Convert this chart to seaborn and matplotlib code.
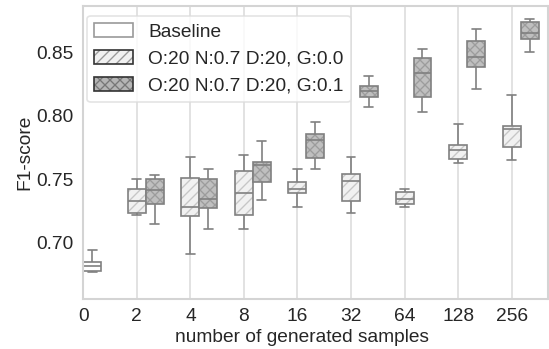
import numpy as np
import pandas as pd
import matplotlib
matplotlib.use("Agg")
import matplotlib.pyplot as plt
from matplotlib.patches import Patch
from matplotlib.colors import to_rgba
import seaborn as sns

# ---------------- data ----------------
categories = ["0", "2", "4", "8", "16", "32", "64", "128", "256"]
series_names = ["Baseline", "O:20 N:0.7 D:20, G:0.0", "O:20 N:0.7 D:20, G:0.1"]

# five numbers per box: low whisker, Q1, median, Q3, high whisker
baseline_vals = {
    "0": [0.6769, 0.6779, 0.6819, 0.6850, 0.6942],
}
g00_vals = {
    "2":   [0.7216, 0.7236, 0.7326, 0.7421, 0.7502],
    "4":   [0.6911, 0.7210, 0.7279, 0.7512, 0.7677],
    "8":   [0.7110, 0.7216, 0.7389, 0.7567, 0.7693],
    "16":  [0.7284, 0.7389, 0.7421, 0.7476, 0.7578],
    "32":  [0.7236, 0.7331, 0.7488, 0.7544, 0.7677],
    "64":  [0.7284, 0.7305, 0.7342, 0.7402, 0.7421],
    "128": [0.7628, 0.7657, 0.7730, 0.7767, 0.7935],
    "256": [0.7649, 0.7752, 0.7893, 0.7922, 0.8161],
}
g01_vals = {
    "2":   [0.7147, 0.7302, 0.7418, 0.7499, 0.7536],
    "4":   [0.7110, 0.7271, 0.7347, 0.7499, 0.7583],
    "8":   [0.7334, 0.7481, 0.7610, 0.7633, 0.7799],
    "16":  [0.7578, 0.7665, 0.7809, 0.7854, 0.7953],
    "32":  [0.8067, 0.8150, 0.8198, 0.8234, 0.8316],
    "64":  [0.8030, 0.8145, 0.8337, 0.8457, 0.8526],
    "128": [0.8211, 0.8387, 0.8461, 0.8591, 0.8684],
    "256": [0.8500, 0.8605, 0.8650, 0.8736, 0.8760],
}
y_ticks = [0.70, 0.75, 0.80, 0.85]

# ---------------- tables ----------------
def to_rows(vals, name):
    rows = []
    for cat, vs in vals.items():
        for v in vs:
            rows.append({"samples": cat, "method": name, "f1": v})
    return rows

df_base = pd.DataFrame(to_rows(baseline_vals, series_names[0]))
df_gen = pd.DataFrame(to_rows(g00_vals, series_names[1]) + to_rows(g01_vals, series_names[2]))

# ---------------- style ----------------
sns.set_theme(style="whitegrid")
plt.rcParams["font.family"] = ["Liberation Sans", "DejaVu Sans"]
plt.rcParams["hatch.linewidth"] = 0.8

FS = 11.5
edge_gray = "#808080"
face_cols = {series_names[0]: "#ffffff", series_names[1]: "#f1f1f1", series_names[2]: "#bfbfbf"}
hatch_cols = {series_names[1]: "#c6c6c6", series_names[2]: "#9c9c9c"}
hatches = {series_names[1]: "////", series_names[2]: "xxxx"}

fig = plt.figure(figsize=(549 / 120, 349 / 120), dpi=120)
ax = fig.add_axes([83.3 / 549, 1 - 298.7 / 349, (547.5 - 83.3) / 549, (298.7 - 6) / 349])

box_w = 0.335
sns.boxplot(data=df_gen, x="samples", y="f1", hue="method", order=categories,
            hue_order=series_names[1:], palette=[face_cols[n] for n in series_names[1:]],
            width=2 * box_w, whis=(0, 100), saturation=1, linecolor=edge_gray,
            linewidth=1.0, legend=False, ax=ax)
sns.boxplot(data=df_base, x="samples", y="f1", order=categories, color=face_cols[series_names[0]],
            width=box_w, whis=(0, 100), saturation=1, linecolor=edge_gray,
            linewidth=1.0, ax=ax)

def set_hcolor(p, c):
    if hasattr(p, "set_hatchcolor"):
        p.set_hatchcolor(c)
    else:
        p._hatch_color = to_rgba(c)

for p in ax.patches:
    fc = p.get_facecolor()
    for name in series_names[1:]:
        if np.allclose(fc[:3], to_rgba(face_cols[name])[:3], atol=0.01):
            p.set_hatch(hatches[name])
            set_hcolor(p, hatch_cols[name])

# axes layout
shift = box_w / 2
ax.set_xticks(np.arange(len(categories)) - shift)
ax.set_xticklabels(categories)
ax.set_xlim(-shift, len(categories) - 1 + 3 * shift)
ax.set_ylim(0.6559, 0.8865)
ax.set_yticks(y_ticks)
ax.set_yticklabels([f"{t:.2f}" for t in y_ticks])
ax.yaxis.grid(False)
ax.xaxis.grid(True, color="#dddddd", linewidth=1.0)
ax.tick_params(axis="both", labelsize=FS, pad=5.6, length=0, colors="#262626")
ax.set_xlabel("number of generated samples", fontsize=FS, color="#262626")
ax.xaxis.set_label_coords((302 - 83.3) / 464.2, -(329 - 298.7) / 292.7)
ax.set_ylabel("F1-score", fontsize=FS, color="#262626", labelpad=2)
for s in ax.spines.values():
    s.set_color("#d4d4d4")

handles = [
    Patch(facecolor="#ffffff", edgecolor="#9a9a9a", label=series_names[0]),
    Patch(facecolor="#f1f1f1", edgecolor="#333333", hatch="////", label=series_names[1]),
    Patch(facecolor="#b5b5b5", edgecolor="#333333", hatch="xxxx", label=series_names[2]),
]
for h, name in zip(handles[1:], series_names[1:]):
    set_hcolor(h, "#999999" if name == series_names[1] else "#777777")
ax.legend(handles=handles, loc="upper left", bbox_to_anchor=(0.0073, 0.967),
          borderaxespad=0, fontsize=FS, labelspacing=0.5, frameon=True,
          edgecolor="#dddddd", facecolor="white", framealpha=0.8)

fig.savefig("out.png", dpi=120)
